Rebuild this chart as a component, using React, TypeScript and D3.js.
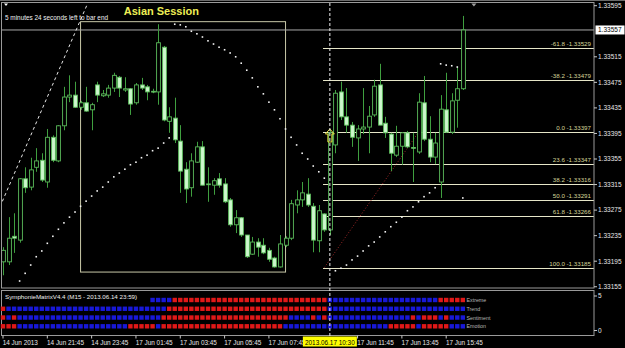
import React from 'react';
import * as d3 from 'd3';

const W = 625;
const H = 348;

// ---- OHLC data, M15 bars from 14 Jun 2013 19:45 to 17 Jun 2013 16:30 ----
const opens = [1.33194,1.33194,1.33234,1.33228,1.33324,1.33311,1.33342,1.33353,1.33319,1.33389,
1.33352,1.33407,1.33452,1.33455,1.33436,1.33443,1.33432,1.33471,1.33454,1.33455,
1.33466,1.33483,1.33463,1.33465,1.33443,1.33471,1.33468,1.33461,1.33460,1.33530,
1.33414,1.33419,1.33383,1.33339,1.33310,1.33350,1.33374,1.33315,1.33314,1.33324,
1.33316,1.33291,1.33252,1.33263,1.33236,1.33206,1.33225,1.33220,1.33212,1.33200,
1.33186,1.33220,1.33231,1.33283,1.33291,1.33300,1.33281,1.33227,1.33269,1.33244,
1.33377,1.33460,1.33421,1.33408,1.33388,1.33402,1.33405,1.33424,1.33471,1.33411,
1.33394,1.33361,1.33375,1.33396,1.33373,1.33366,1.33443,1.33386,1.33358,1.33319,
1.33432,1.33397,1.33447,1.33465];
const highs = [1.33217,1.33264,1.33270,1.33325,1.33342,1.33357,1.33372,1.33364,1.33402,1.33392,
1.33408,1.33468,1.33486,1.33476,1.33446,1.33468,1.33443,1.33476,1.33463,1.33471,
1.33490,1.33485,1.33483,1.33466,1.33474,1.33482,1.33471,1.33465,1.33566,1.33532,
1.33436,1.33451,1.33408,1.33350,1.33364,1.33382,1.33383,1.33342,1.33325,1.33333,
1.33325,1.33294,1.33275,1.33264,1.33236,1.33233,1.33231,1.33231,1.33216,1.33202,
1.33236,1.33234,1.33291,1.33306,1.33319,1.33325,1.33286,1.33283,1.33270,1.33400,
1.33463,1.33476,1.33466,1.33413,1.33408,1.33466,1.33438,1.33479,1.33504,1.33421,
1.33396,1.33407,1.33397,1.33399,1.33396,1.33458,1.33485,1.33422,1.33396,1.33455,
1.33490,1.33458,1.33499,1.33579];
const lows = [1.33173,1.33189,1.33208,1.33224,1.33302,1.33306,1.33335,1.33319,1.33310,1.33350,
1.33350,1.33400,1.33444,1.33435,1.33432,1.33429,1.33400,1.33444,1.33452,1.33451,
1.33460,1.33452,1.33460,1.33424,1.33440,1.33463,1.33447,1.33458,1.33440,1.33414,
1.33396,1.33380,1.33302,1.33286,1.33296,1.33349,1.33314,1.33288,1.33299,1.33310,
1.33286,1.33249,1.33239,1.33233,1.33200,1.33205,1.33202,1.33206,1.33194,1.33185,
1.33185,1.33217,1.33228,1.33270,1.33280,1.33280,1.33209,1.33209,1.33241,1.33236,
1.33364,1.33416,1.33396,1.33374,1.33352,1.33394,1.33364,1.33421,1.33408,1.33388,
1.33336,1.33358,1.33346,1.33372,1.33319,1.33363,1.33383,1.33350,1.33347,1.33294,
1.33396,1.33394,1.33404,1.33463];
const closes = [1.33212,1.33231,1.33231,1.33324,1.33310,1.33338,1.33352,1.33322,1.33389,1.33353,
1.33407,1.33452,1.33455,1.33436,1.33443,1.33430,1.33440,1.33455,1.33457,1.33466,
1.33486,1.33466,1.33465,1.33441,1.33471,1.33466,1.33460,1.33460,1.33537,1.33416,
1.33421,1.33385,1.33336,1.33308,1.33352,1.33374,1.33314,1.33316,1.33321,1.33314,
1.33288,1.33252,1.33263,1.33236,1.33202,1.33225,1.33217,1.33208,1.33198,1.33186,
1.33222,1.33231,1.33285,1.33291,1.33302,1.33283,1.33228,1.33274,1.33244,1.33396,
1.33458,1.33421,1.33408,1.33389,1.33402,1.33405,1.33422,1.33469,1.33408,1.33396,
1.33364,1.33375,1.33396,1.33374,1.33372,1.33444,1.33386,1.33358,1.33380,1.33433,
1.33397,1.33446,1.33465,1.33557];

// dotted signal indicator (one dot per bar, null = none visible)
const signalDots = [null,null,null,
1.33164,1.33176,1.33189,1.33202,1.33211,1.33223,1.33234,1.33245,1.33255,1.33264,
1.33272,1.33281,1.33289,1.33297,1.33305,1.33311,1.33319,1.33327,1.33333,1.33339,
1.33346,1.33350,1.33357,1.33361,1.33368,1.33372,1.33380,1.33388,
1.33566,1.33565,1.33562,1.33555,1.33551,1.33546,1.33540,1.33535,1.33530,1.33526,
1.33521,1.33515,1.33505,1.33494,1.33482,1.33468,1.33457,1.33444,1.33432,1.33418,
1.33402,1.33389,1.33377,1.33364,1.33355,1.33344,1.33335,1.33325,
null,
1.33180,1.33184,1.33189,1.33197,1.33203,1.33211,1.33219,1.33225,1.33233,1.33241,
1.33249,1.33256,1.33264,1.33274,1.33280,1.33288,1.33296,1.33302,1.33310,
1.33504,1.33502,1.33501,1.33499,
1.33294];

const priceTicks = [1.33595,1.33515,1.33475,1.33435,1.33395,1.33355,1.33315,1.33275,1.33235,1.33195,1.33155];
const bidPrice = 1.33557;

const fibLevels = [-61.8,-38.2,0,23.6,38.2,50,61.8,100];
const fibPrices = [1.33529,1.33479,1.33397,1.33347,1.33316,1.33291,1.33266,1.33185];
const fibAnchorBars = [58, 75];
const fibAnchorPrices = [1.33185, 1.33397];

const sessionBars = [14, 51];
const sessionPrices = [1.33570, 1.33178];
const sessionTitle = 'Asian Session';

const trendBars = [-0.55, 15.2];
const trendPrices = [1.33280, 1.33597];

const arrowBar = 59;
const arrowPrice = 1.33402;

const timeTickBars = [0,8,16,24,32,40,48,64,72,80];
const timeTickLabels = ['14 Jun 2013','14 Jun 21:45','14 Jun 23:45','17 Jun 01:45','17 Jun 03:45','17 Jun 05:45','17 Jun 07:45','17 Jun 11:45','17 Jun 13:45','17 Jun 15:45'];
const cursorBar = 59;
const cursorLabel = '2013.06.17 10:30';

const matrixRows = ['Extreme','Trend','Sentiment','Emotion'];
const extremeRuns: [string, number][] = [['-',27],['B',4],['R',28],['B',20],['R',5]];
const trendRuns: [string, number][] = [['R',1],['B',29],['R',29],['B',25]];
const sentimentRuns: [string, number][] = [['R',1],['B',1],['R',1],['B',26],['R',23],['B',4],['R',1],['B',1],['R',1],['B',15],['R',1],['B',1],['R',3],['B',1],['R',1],['B',3]];
const emotionRuns: [string, number][] = [['R',3],['B',20],['R',5],['B',1],['R',22],['B',19],['R',5],['B',1],['R',5],['B',3]];
const matrixScaleTicks = [5, 0];

const expand = (runs: [string, number][]) => runs.flatMap(([c, n]) => Array(n).fill(c));

const FONT = 'Liberation Sans, Arial, sans-serif';

export default function App() {
  const n = opens.length;
  const x = d3.scaleLinear().domain([0, n - 1]).range([3, 3 + 5.54 * (n - 1)]);
  const y = d3.scaleLinear().domain([1.33155, 1.33595]).range([286.75, 5.7]);
  const rowY = d3.scalePoint<string>().domain(matrixRows).range([300, 326.3]);
  const subY = d3.scaleLinear().domain([0, 5]).range([330.5, 296]);

  const plotL = 2, plotR = 594, plotT = 3, plotB = 288;
  const subT = 290.5, subB = 335.5;

  const bodyW = 3.8;
  const wick = '#3f9f3f';
  const outline = '#5cbc5c';
  const bearFill = '#cdf7cd';

  const rows = [extremeRuns, trendRuns, sentimentRuns, emotionRuns].map(expand);
  const line = d3.line<[number, number]>();

  const ax = x(arrowBar), ay = y(arrowPrice);
  const arrowPath = `M${ax},${ay} L${ax + 4.5},${ay + 5} L${ax + 2},${ay + 5} L${ax + 2},${ay + 13} L${ax - 2},${ay + 13} L${ax - 2},${ay + 5} L${ax - 4.5},${ay + 5} Z`;

  const fibX0 = x(Math.min(...fibAnchorBars)) - 1.3;

  return (
    <svg width={W} height={H} style={{ position: 'fixed', left: 0, top: 0, background: '#000' }} fontFamily={FONT}>
      <rect x={0} y={0} width={W} height={H} fill="#000" />
      <defs>
        <clipPath id="mainClip">
          <rect x={plotL} y={plotT} width={plotR - plotL} height={plotB - plotT} />
        </clipPath>
      </defs>
      <line x1={0} x2={W} y1={0.5} y2={0.5} stroke="#6a6a6a" />

      <g clipPath="url(#mainClip)">
        <rect x={x(sessionBars[0])} y={y(sessionPrices[0])} width={x(sessionBars[1]) - x(sessionBars[0])}
          height={y(sessionPrices[1]) - y(sessionPrices[0])} fill="none" stroke="#c8c8a8" strokeWidth={1} />
        <line x1={plotL} x2={plotR} y1={y(bidPrice)} y2={y(bidPrice)} stroke="#a8a8a8" strokeWidth={1} />
        {fibPrices.map((p, i) => (
          <line key={'f' + i} x1={fibX0} x2={plotR} y1={Math.round(y(p)) + 0.5} y2={Math.round(y(p)) + 0.5} stroke="#e6e6c8" strokeWidth={1} />
        ))}
        <line x1={x(fibAnchorBars[0])} y1={y(fibAnchorPrices[0])} x2={x(fibAnchorBars[1])} y2={y(fibAnchorPrices[1])}
          stroke="#a02828" strokeWidth={1} strokeDasharray="1,2" />
        <path d={line([[x(trendBars[0]), y(trendPrices[0])], [x(trendBars[1]), y(trendPrices[1])]]) || ''}
          stroke="#e8e8e8" strokeWidth={1} strokeDasharray="3,3" fill="none" />
        {opens.map((o, i) => {
          const c = closes[i];
          const bull = c >= o;
          const top = y(Math.max(o, c));
          const bot = y(Math.min(o, c));
          const cx = Math.round(x(i)) + 0.5;
          return (
            <g key={'c' + i}>
              <line x1={cx} x2={cx} y1={y(highs[i])} y2={y(lows[i])} stroke={wick} strokeWidth={1} />
              <rect x={cx - bodyW / 2} y={top} width={bodyW} height={Math.max(bot - top, 0.8)}
                fill={bull ? '#000' : bearFill} stroke={outline} strokeWidth={0.9} />
            </g>
          );
        })}
        {signalDots.map((p, i) => p == null ? null : (
          <rect key={'d' + i} x={x(i) - 0.8} y={y(p) - 0.8} width={1.6} height={1.6} fill="#f4f4f4" />
        ))}
        {fibPrices.map((p, i) => (
          <text key={'fl' + i} x={591} y={y(p) - 1.8} textAnchor="end" fontSize={6.2} fill="#d6d69a">
            {`${fibLevels[i].toFixed(1)} -${p.toFixed(5)}`}
          </text>
        ))}
        <path d={arrowPath} fill="none" stroke="#e6e040" strokeWidth={1} />
        <text x={x(21.8)} y={15} fontSize={11} fontWeight="bold" fill="#eeee55">{sessionTitle}</text>
        <text x={5} y={19.5} fontSize={6.4} fill="#f0f0f0">5 minutes 24 seconds left to bar end</text>
      </g>

      <rect x={plotL - 0.5} y={plotT - 0.5} width={plotR - plotL + 0.5} height={plotB - plotT + 0.5} fill="none" stroke="#9a9a9a" />
      <rect x={plotL - 0.5} y={subT} width={plotR - plotL + 0.5} height={subB - subT} fill="none" stroke="#9a9a9a" />
      <path d="M4,3.5 L8,3.5 L6,6 Z" fill="#fff" />
      <path d={`M${x(85) - 2.5},3.5 L${x(85) + 2.5},3.5 L${x(85)},6.5 Z`} fill="#a0a0a0" />

      {priceTicks.map((p, i) => (
        <g key={'pt' + i}>
          <line x1={plotR} x2={plotR + 3} y1={y(p)} y2={y(p)} stroke="#c8c8c8" />
          <text x={598} y={y(p) + 2.3} fontSize={6.5} fill="#e8e8e8">{p.toFixed(5)}</text>
        </g>
      ))}
      <rect x={595.5} y={y(bidPrice) - 4.5} width={29} height={9} fill="#fff" />
      <text x={598} y={y(bidPrice) + 2.3} fontSize={6.5} fill="#000">{bidPrice.toFixed(5)}</text>

      {rows.map((r, ri) => r.map((c, i) => c === '-' ? null : (
        <rect key={`m${ri}-${i}`} x={x(i) - 2.2} y={(rowY(matrixRows[ri]) || 0) - 2.2} width={4.4} height={4.4}
          fill={c === 'R' ? '#e01818' : '#1818d8'} />
      )))}
      {matrixRows.map(r => (
        <text key={r} x={466.5} y={(rowY(r) || 0) + 2} fontSize={5.3} fill="#b8b8b8">{r}</text>
      ))}
      <text x={5} y={299} fontSize={6.2} fill="#f0f0f0">SymphonieMatrixV4.4 (M15 - 2013.06.14 23:59)</text>
      {matrixScaleTicks.map(t => (
        <g key={'s' + t}>
          <line x1={plotR} x2={plotR + 3} y1={subY(t)} y2={subY(t)} stroke="#c8c8c8" />
          <text x={598} y={subY(t) + 2.3} fontSize={6.5} fill="#e8e8e8">{t}</text>
        </g>
      ))}

      <line x1={x(cursorBar)} x2={x(cursorBar)} y1={3} y2={336} stroke="#f0f0f0" strokeWidth={1} strokeDasharray="3,2" />

      {timeTickBars.map((b, i) => (
        <g key={'tt' + i}>
          <line x1={x(b)} x2={x(b)} y1={subB} y2={subB + 3} stroke="#c8c8c8" />
          <text x={x(b) - 0.3} y={344.5} fontSize={6.4} fill="#e8e8e8">{timeTickLabels[i]}</text>
        </g>
      ))}
      <rect x={x(cursorBar) - 27} y={336.5} width={54} height={10} fill="#ffff00" />
      <text x={x(cursorBar)} y={344.5} fontSize={6.4} textAnchor="middle" fill="#000">{cursorLabel}</text>
    </svg>
  );
}
